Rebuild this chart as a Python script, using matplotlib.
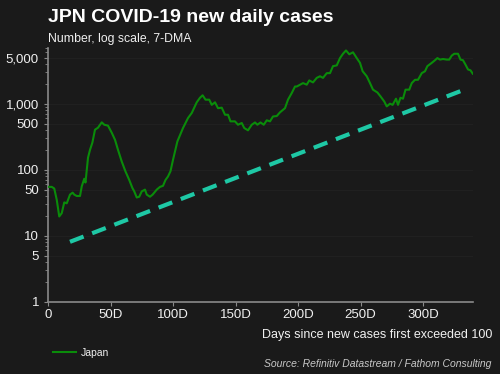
import numpy as np
import matplotlib
matplotlib.use("Agg")
import matplotlib.pyplot as plt
from matplotlib.ticker import FixedLocator, LogLocator, NullFormatter

plt.rcParams['font.family'] = ['Liberation Sans', 'DejaVu Sans']

# Japan, 7-day average of new daily cases
days = [0, 3, 5, 7, 9, 11, 13, 15, 17.6, 19.7, 21, 23, 25.6, 27, 29, 30, 32, 33.6,
        35.5, 37.6, 40, 43, 45, 48, 51, 53.6, 56, 59, 62, 65, 67.5, 69, 71, 73,
        75, 77.6, 79, 81.6, 83.7, 87, 89.6, 92, 94, 96, 98, 100, 103.5, 108, 112,
        115, 119, 121.6, 123.7, 126, 129, 131, 133.6, 136, 139, 141.6, 144, 146,
        149.6, 152, 155, 157, 160, 163, 165.6, 167.5, 170, 172.6, 175, 177.6, 180,
        183, 185.6, 189.6, 192, 195, 197.6, 199, 201.6, 204, 207, 209, 212, 215,
        217.6, 220, 223, 225.6, 228, 231, 233.6, 236, 238.4, 241, 244, 247, 249.6,
        251.7, 255, 257.6, 260, 263.5, 266, 269, 271, 273.6, 275.7, 278.4, 280,
        282, 284, 286, 289, 291, 293.6, 296, 299, 301.6, 303.5, 307, 309.6, 311.5,
        313.6, 316, 319, 321, 323, 325, 328, 330, 332, 334, 336, 338, 339.8]
cases = [55, 55, 52, 35, 19.6, 22, 32, 31, 42, 45, 42, 40, 40, 56, 73, 64, 152, 200,
         257, 404, 433, 522, 480, 465, 363, 284, 200, 133, 94, 70, 53, 47, 38, 39,
         47, 50, 42, 39, 42, 50, 55, 57, 70, 79, 95, 141, 268, 428, 606,
         723, 1050, 1230, 1340, 1150, 1150, 960, 1050, 855, 870, 680, 680, 540,
         540, 480, 510, 428, 395, 480, 520, 480, 520, 480, 560, 540, 640,
         650, 740, 855, 1150, 1450, 1820, 1820, 1940, 2050, 1940, 2250, 2100, 2460,
         2600, 2460, 2900, 2900, 3700, 3800, 4900, 5700, 6400, 5600, 6000, 4900, 4150,
         3100, 2600, 2050, 1630, 1480, 1290, 1080, 910, 1000, 960, 1190, 960,
         1230, 1190, 1630, 1630, 2050, 2300, 2300, 2900, 3100, 3700, 4150, 4550, 4900,
         4650, 4750, 4650, 4650, 5350, 5700, 5700, 4650, 4550, 3900, 3300, 3200, 2850]

# reference trend line (start and end)
trend_days = [17.6, 333]
trend_vals = [8.1, 1630]

yticks = [1, 5, 10, 50, 100, 500, 1000, 5000]
xticks = [0, 50, 100, 150, 200, 250, 300]

bg = '#1a1a1a'
fig = plt.figure(figsize=(5, 3.74), dpi=100, facecolor=bg)
ax = fig.add_axes([0.096, 0.193, 0.85, 0.679], facecolor=bg)

ax.set_yscale('log')
ax.plot(days, cases, color='#0a8c0a', lw=1.5, label='Japan', zorder=3)
ax.plot(trend_days, trend_vals, color='#1ec8a5', lw=3, dashes=(3.5, 2.2), zorder=2)

ax.set_xlim(0, 340)
ax.set_ylim(1, 7000)
ax.yaxis.set_major_locator(FixedLocator(yticks))
ax.set_yticklabels([f'{v:,}' for v in yticks])
ax.yaxis.set_minor_locator(LogLocator(base=10, subs=np.arange(2, 10)))
ax.yaxis.set_minor_formatter(NullFormatter())
ax.set_xticks(xticks)
ax.set_xticklabels(['0'] + [f'{v}D' for v in xticks[1:]])

for s in ['top', 'right']:
    ax.spines[s].set_visible(False)
for s in ['left', 'bottom']:
    ax.spines[s].set_color('#8a8a8a')
    ax.spines[s].set_linewidth(1.2)
ax.tick_params(axis='both', which='major', colors='#8a8a8a', labelcolor='#f0f0f0',
               labelsize=9.5, length=3, width=0.8)
ax.tick_params(axis='y', which='minor', colors='#8a8a8a', length=2, width=0.6)
ax.tick_params(axis='x', pad=2)
ax.grid(axis='y', which='major', color='#222222', lw=0.6, zorder=0)

fig.text(0.096, 0.952, 'JPN COVID-19 new daily cases', color='white',
         fontsize=14, fontweight='bold', va='center', ha='left')
fig.text(0.096, 0.897, 'Number, log scale, 7-DMA', color='#f0f0f0',
         fontsize=8.8, va='center', ha='left')
fig.text(0.984, 0.104, 'Days since new cases first exceeded 100', color='#f0f0f0',
         fontsize=9, va='center', ha='right')
fig.text(0.982, 0.013, 'Source: Refinitiv Datastream / Fathom Consulting',
         color='#c8c8c8', fontsize=7.5, style='italic', va='bottom', ha='right')

leg = fig.legend(loc='center left', bbox_to_anchor=(0.088, 0.056), frameon=False,
                 fontsize=7.5, handlelength=2.2, handletextpad=0.4)
for t in leg.get_texts():
    t.set_color('#f0f0f0')

fig.savefig('out.png', dpi=100, facecolor=bg)
